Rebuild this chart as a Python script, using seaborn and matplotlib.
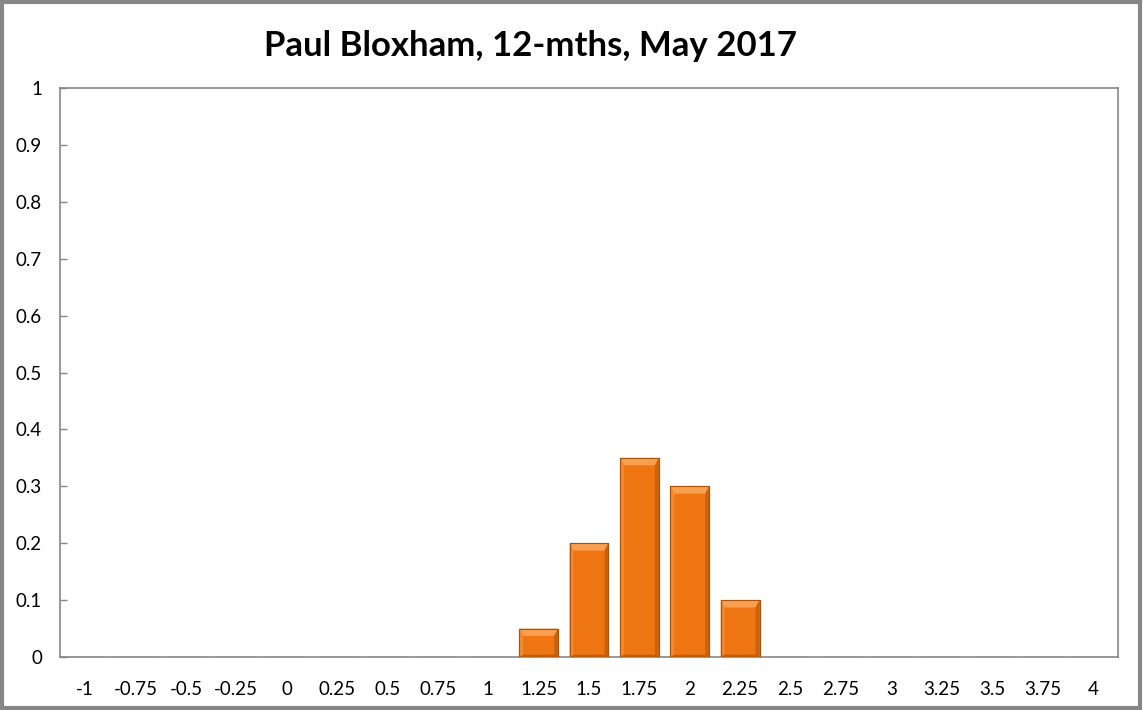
import numpy as np
import pandas as pd
import matplotlib.pyplot as plt
import seaborn as sns
from matplotlib.patches import Rectangle, Polygon

# forecast probability distribution
categories = ["-1", "-0.75", "-0.5", "-0.25", "0", "0.25", "0.5", "0.75", "1", "1.25",
              "1.5", "1.75", "2", "2.25", "2.5", "2.75", "3", "3.25", "3.5", "3.75", "4"]
probs = [0, 0, 0, 0, 0, 0, 0, 0, 0, 0.05,
         0.2, 0.35, 0.3, 0.1, 0, 0, 0, 0, 0, 0, 0]
y_ticks = [0, 0.1, 0.2, 0.3, 0.4, 0.5, 0.6, 0.7, 0.8, 0.9, 1]
y_labels = ["0", "0.1", "0.2", "0.3", "0.4", "0.5", "0.6", "0.7", "0.8", "0.9", "1"]
title = "Paul Bloxham, 12-mths, May 2017"

df = pd.DataFrame({"bucket": categories, "prob": probs})

sns.set_style("white")
plt.rcParams['font.family'] = ['Lato', 'DejaVu Sans']

fig = plt.figure(figsize=(11.43, 7.1), dpi=100)
ax = fig.add_axes([60 / 1143, 1 - 657 / 710, 1058 / 1143, 569 / 710])

sns.barplot(data=df, x="bucket", y="prob", order=categories, color="#EF7512",
            saturation=1, width=0.77, ax=ax, edgecolor="#A9520B", linewidth=0.8)

# fake excel bevel on each bar
for p in ax.patches:
    x0, y0 = p.get_x(), p.get_y()
    w, h = p.get_width(), p.get_height()
    if h <= 0:
        continue
    bev_x = w * 0.1
    bev_y = min(0.013, h * 0.3)
    top = y0 + h
    ax.add_patch(Polygon([[x0, top], [x0 + w, top], [x0 + w - bev_x, top - bev_y],
                          [x0 + bev_x, top - bev_y]], closed=True,
                         facecolor="#F8A050", edgecolor="none", zorder=3))
    ax.add_patch(Polygon([[x0 + w, top], [x0 + w, y0], [x0 + w - bev_x, y0 + 0.003],
                          [x0 + w - bev_x, top - bev_y]], closed=True,
                         facecolor="#C8620E", edgecolor="none", zorder=3))
    ax.add_patch(Polygon([[x0, top], [x0, y0], [x0 + bev_x, y0 + 0.003],
                          [x0 + bev_x, top - bev_y]], closed=True,
                         facecolor="#F28A30", edgecolor="none", zorder=3))
    ax.add_patch(Polygon([[x0, y0], [x0 + w, y0], [x0 + w - bev_x, y0 + 0.004],
                          [x0 + bev_x, y0 + 0.004]], closed=True,
                         facecolor="#C05C0C", edgecolor="none", zorder=3))
    ax.add_patch(Rectangle((x0, y0), w, h, facecolor="none",
                           edgecolor="#A9520B", linewidth=0.8, zorder=4))

ax.set_xlim(-0.5, len(categories) - 0.5)
ax.set_ylim(0, 1)
ax.set_yticks(y_ticks)
ax.set_yticklabels(y_labels)
ax.set_xticks(range(len(categories)))
ax.set_xticklabels(categories)
ax.set_xticks(np.arange(-0.5, len(categories), 1), minor=True)
ax.tick_params(axis="x", which="major", length=0, pad=17, labelsize=13.5, labelcolor="black")
ax.tick_params(axis="x", which="minor", direction="in", length=5, color="#868686", width=1)
ax.tick_params(axis="y", direction="in", length=5, color="#868686", width=1,
               pad=13, labelsize=13.5, labelcolor="black", left=True)
ax.set_xlabel("")
ax.set_ylabel("")

for s in ax.spines.values():
    s.set_visible(True)
    s.set_color("#868686")
    s.set_linewidth(1.2)

fig.text(530 / 1143, 1 - 46 / 710, title, ha="center", va="center",
         fontsize=25, fontweight="bold", color="black")

# outer chart border
fig.patches.append(Rectangle((0.002, 0.003), 0.995, 0.994, transform=fig.transFigure,
                             fill=False, edgecolor="#868686", linewidth=3))

fig.savefig("out.png", dpi=100)
